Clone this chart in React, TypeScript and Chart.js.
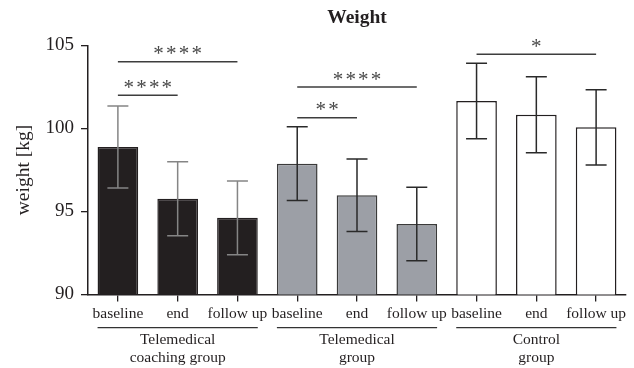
import React, { useEffect, useRef } from "react";
import { Chart, registerables } from "chart.js";

Chart.register(...registerables);

const categories = ["baseline", "end", "follow up", "baseline", "end", "follow up", "baseline", "end", "follow up"];
const groupNames = [["Telemedical", "coaching group"], ["Telemedical", "group"], ["Control", "group"]];
const groupOfBar = [0, 0, 0, 1, 1, 1, 2, 2, 2];
const means = [98.89, 95.77, 94.62, 97.88, 95.98, 94.25, 101.66, 100.83, 100.07];
const sds = [2.47, 2.23, 2.22, 2.22, 2.18, 2.21, 2.27, 2.29, 2.27];
const yTicks = [90, 95, 100, 105];

const bracketFrom = [0, 0, 3, 3, 6];
const bracketTo = [1, 2, 4, 5, 8];
const bracketLevel = [102.0, 104.02, 100.65, 102.5, 104.47];
const bracketStars = [4, 4, 2, 4, 1];

const TEXT = "#231f20";
const SERIF = "'Liberation Serif', 'Times New Roman', serif";
const groupFill = ["#231f20", "#9c9fa6", "#ffffff"];
const groupBorder = ["#231f20", "#3a3a3a", "#231f20"];
const groupErr = ["#858585", "#2a2a2a", "#2a2a2a"];

const overlay = {
  id: "overlay",
  afterDatasetsDraw(chart: any) {
    const ctx = chart.ctx;
    const meta = chart.getDatasetMeta(0);
    const y = chart.scales.y;
    ctx.save();
    meta.data.forEach((bar: any, i: number) => {
      const x = bar.x;
      const t = y.getPixelForValue(means[i] + sds[i]);
      const b = y.getPixelForValue(means[i] - sds[i]);
      ctx.strokeStyle = groupErr[groupOfBar[i]];
      ctx.lineWidth = 1.5;
      ctx.beginPath();
      ctx.moveTo(x, t);
      ctx.lineTo(x, b);
      ctx.moveTo(x - 10.5, t);
      ctx.lineTo(x + 10.5, t);
      ctx.moveTo(x - 10.5, b);
      ctx.lineTo(x + 10.5, b);
      ctx.stroke();
    });
    ctx.restore();
  },
  afterDraw(chart: any) {
    const ctx = chart.ctx;
    const meta = chart.getDatasetMeta(0);
    const y = chart.scales.y;
    const area = chart.chartArea;
    ctx.save();
    // brackets
    bracketFrom.forEach((f: number, k: number) => {
      const x1 = meta.data[f].x;
      const x2 = meta.data[bracketTo[k]].x;
      const ly = y.getPixelForValue(bracketLevel[k]);
      ctx.strokeStyle = "#3d3d3d";
      ctx.lineWidth = 1.4;
      ctx.beginPath();
      ctx.moveTo(x1, ly);
      ctx.lineTo(x2, ly);
      ctx.stroke();
      ctx.font = "21px " + SERIF;
      ctx.fillStyle = "#484848";
      ctx.textAlign = "center";
      ctx.textBaseline = "alphabetic";
      const m = ctx.measureText("*");
      const asc = m.actualBoundingBoxAscent;
      const desc = m.actualBoundingBoxDescent;
      const targetY = ly - 11.3;
      const base = targetY - (desc - asc) / 2;
      const n = bracketStars[k];
      const cx = (x1 + x2) / 2;
      const pitch = 12.7;
      for (let s = 0; s < n; s++) {
        ctx.fillText("*", cx + (s - (n - 1) / 2) * pitch, base);
      }
    });
    // group labels
    groupNames.forEach((lines: string[], g: number) => {
      const idx = groupOfBar.map((v, i) => (v === g ? i : -1)).filter((i) => i >= 0);
      const first = meta.data[idx[0]];
      const last = meta.data[idx[idx.length - 1]];
      const left = first.x - first.width / 2;
      const right = last.x + last.width / 2;
      ctx.strokeStyle = "#333333";
      ctx.lineWidth = 1.2;
      ctx.beginPath();
      ctx.moveTo(left, 327.7);
      ctx.lineTo(right, 327.7);
      ctx.stroke();
      ctx.fillStyle = TEXT;
      ctx.font = "15.5px " + SERIF;
      ctx.textAlign = "center";
      ctx.textBaseline = "alphabetic";
      lines.forEach((ln, j) => ctx.fillText(ln, (left + right) / 2, 344 + j * 17.5));
    });
    // title
    ctx.fillStyle = TEXT;
    ctx.font = "bold 19.5px " + SERIF;
    ctx.textAlign = "center";
    ctx.textBaseline = "alphabetic";
    ctx.fillText("Weight", 357, 22.7);
    // y title
    ctx.save();
    ctx.translate(28.5, (area.top + area.bottom) / 2);
    ctx.rotate(-Math.PI / 2);
    ctx.font = "19.5px " + SERIF;
    ctx.fillText("weight [kg]", 0, 0);
    ctx.restore();
    ctx.restore();
  },
};

export default function App() {
  const ref = useRef<HTMLCanvasElement | null>(null);
  useEffect(() => {
    if (!ref.current) return;
    const chart = new Chart(ref.current, {
      type: "bar",
      data: {
        labels: categories,
        datasets: [
          {
            data: means,
            backgroundColor: groupOfBar.map((g) => groupFill[g]),
            borderColor: groupOfBar.map((g) => groupBorder[g]),
            borderWidth: 1.5,
            barPercentage: 0.68,
            categoryPercentage: 1,
          },
        ],
      },
      options: {
        responsive: false,
        animation: false,
        devicePixelRatio: 1,
        layout: { padding: { top: 45.5, right: 8, left: 0, bottom: 0 } },
        plugins: { legend: { display: false }, tooltip: { enabled: false }, title: { display: false } },
        scales: {
          x: {
            offset: true,
            grid: { offset: false, drawOnChartArea: false, tickLength: 7, color: TEXT, lineWidth: 1.3 },
            border: { display: true, color: TEXT, width: 1.5 },
            ticks: {
              autoSkip: false,
              maxRotation: 0,
              padding: 3,
              color: TEXT,
              font: { family: SERIF, size: 15.5 },
            },
            afterFit: (s: any) => {
              s.height = 73.5;
            },
          },
          y: {
            min: 90,
            max: 105,
            afterBuildTicks: (s: any) => {
              s.ticks = yTicks.map((v) => ({ value: v }));
            },
            grid: { drawOnChartArea: false, tickLength: 7, color: TEXT, lineWidth: 1.3 },
            border: { display: true, color: TEXT, width: 1.5 },
            ticks: { padding: 7, color: TEXT, font: { family: SERIF, size: 19 } },
            afterFit: (s: any) => {
              s.width = 88;
            },
          },
        },
      },
      plugins: [overlay],
    });
    return () => chart.destroy();
  }, []);
  return (
    <div style={{ position: "fixed", left: 0, top: 0, width: 634, height: 368, background: "#fff" }}>
      <canvas ref={ref} width={634} height={368} style={{ width: 634, height: 368 }} />
    </div>
  );
}
